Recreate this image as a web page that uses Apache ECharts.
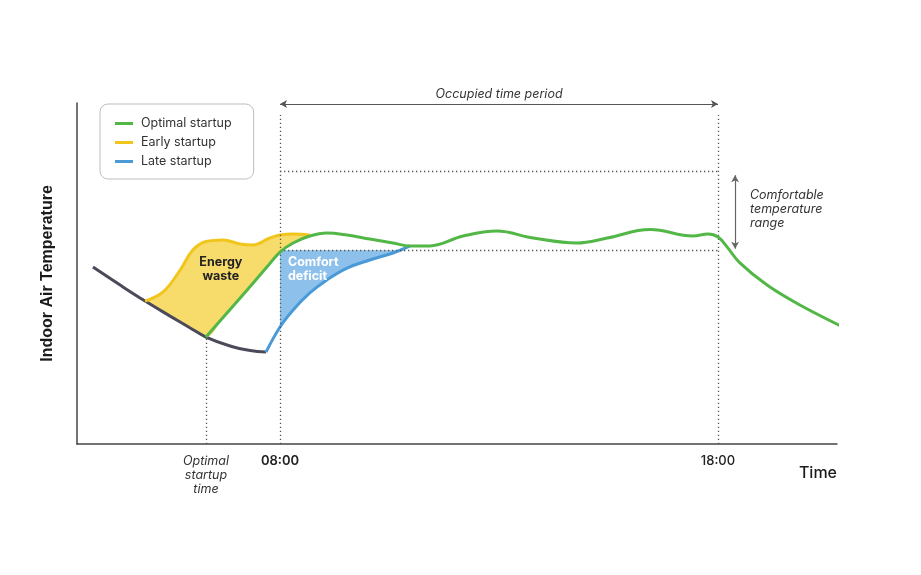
<!DOCTYPE html>
<html>
<head>
<meta charset="utf-8">
<title>Optimal startup</title>
<script src="https://cdn.jsdelivr.net/npm/echarts@6/dist/echarts.min.js"></script>
<style>
html, body { margin: 0; padding: 0; background: #fff; }
#chart { width: 921px; height: 575px; }
</style>
</head>
<body>
<div id="chart"></div>
<script>
// x = hour of day, y = indoor air temperature (degC)
var nightX = [3.73, 4.35, 4.92, 5.49, 5.95, 6.31, 6.86, 7.32, 7.68];
var nightY = [19.15, 18.24, 17.43, 16.67, 16.07, 15.61, 15.16, 14.93, 14.85];

var optimalX = [6.31, 6.79, 7.25, 7.70, 8.00, 8.30, 8.68, 9.07, 9.53, 10.05, 10.58, 10.97, 11.42, 12.18, 12.95, 13.78, 14.78, 15.47, 16.45, 17.43, 17.77, 18.00, 18.21, 18.50, 19.12, 19.87, 20.85];
var optimalY = [15.61, 16.83, 17.99, 19.15, 19.91, 20.37, 20.72, 20.87, 20.77, 20.57, 20.37, 20.22, 20.22, 20.72, 20.97, 20.62, 20.37, 20.62, 21.05, 20.72, 20.82, 20.67, 20.16, 19.36, 18.24, 17.23, 16.12];

// early startup curve and the lower edge of the "energy waste" area
var wasteX = [4.92, 5.33, 5.72, 6.01, 6.31, 6.70, 7.09, 7.38, 7.77, 8.00, 8.30, 8.68];
var wasteTop = [17.43, 17.89, 19.00, 20.01, 20.44, 20.52, 20.32, 20.27, 20.62, 20.77, 20.82, 20.77];
var wasteBottom = [17.43, 16.88, 16.37, 15.97, 15.61, 16.57, 17.58, 18.34, 19.33, 19.91, 20.37, 20.72];

var lateX = [7.68, 8.00, 8.30, 8.68, 9.07, 9.53, 10.05, 10.58, 10.97];
var lateY = [14.85, 16.12, 16.98, 17.84, 18.50, 19.10, 19.51, 19.86, 20.22];

// "comfort deficit" area: late curve below the comfort band
var deficitX = [8.00, 8.30, 8.68, 9.07, 9.53, 10.05, 10.58, 10.74];
var deficitY = [16.12, 16.98, 17.84, 18.50, 19.10, 19.51, 19.86, 20.00];

var comfortLow = 20;
var comfortHigh = 24;
var optimalStart = 6.31;
var occupiedStart = 8;
var occupiedEnd = 18;

var tickValues = [6.31, 8, 18];
var tickLabels = ['{i|Optimal}\n{i|startup}\n{i|time}', '{b|08:00}', '{m|18:00}'];

var xMin = 3.365, xMax = 20.717;
var yMin = 10.2, yMax = 27.45;

var GREEN = '#52b747';
var YELLOW = '#f1c61c';
var BLUE = '#4a9ad8';
var DARK = '#4a4a5a';
var FONT = 'Inter';

function pairs(xs, ys){
	return xs.map(function(x, i){ return [x, ys[i]]; });
}

// y first, so that the stack runs on the temperature dimension
function yxPairs(xs, ys){
	return xs.map(function(x, i){ return [ys[i], x]; });
}

function drawChart(){
	var voChart = echarts.init(document.getElementById('chart'));

	var wasteDiff = wasteTop.map(function(v, i){ return +(v - wasteBottom[i]).toFixed(3); });
	var dotted = { color: '#555', width: 1.3, type: [1.3, 2.7] };

	var options = {
		animation: false,
		grid: { left: 77, right: 84, top: 103, bottom: 131 },
		legend: {
			data: ['Optimal startup', 'Early startup', 'Late startup'],
			orient: 'vertical',
			left: 100,
			top: 104,
			padding: [12, 22, 10, 15],
			itemGap: 4,
			itemWidth: 18,
			itemHeight: 3,
			icon: 'rect',
			selectedMode: false,
			borderColor: '#bdbdbd',
			borderWidth: 1,
			borderRadius: 8,
			textStyle: { fontFamily: FONT, fontSize: 12.5, color: '#333', lineHeight: 15, padding: [0, 0, 0, 3] }
		},
		xAxis: {
			type: 'value',
			min: xMin,
			max: xMax,
			name: 'Time',
			nameLocation: 'end',
			nameGap: 0,
			nameTextStyle: { fontFamily: FONT, fontSize: 16, fontWeight: 500, color: '#1a1a1a', align: 'right', verticalAlign: 'top', padding: [21, 0, 0, 0] },
			axisLine: { show: true, onZero: false, lineStyle: { color: '#444', width: 1.5 } },
			axisTick: { show: false },
			splitLine: { show: false },
			axisLabel: {
				show: true,
				customValues: tickValues,
				margin: 10,
				formatter: function(value){
					for(var i = 0; i < tickValues.length; i++) {
						if(Math.abs(value - tickValues[i]) < 1e-6) return tickLabels[i];
					}
					return '';
				},
				rich: {
					i: { fontFamily: FONT, fontStyle: 'italic', fontSize: 12.5, color: '#333', lineHeight: 14 },
					b: { fontFamily: FONT, fontWeight: 600, fontSize: 13, color: '#222', lineHeight: 14 },
					m: { fontFamily: FONT, fontWeight: 500, fontSize: 13, color: '#222', lineHeight: 14 }
				}
			}
		},
		yAxis: {
			type: 'value',
			min: yMin,
			max: yMax,
			name: 'Indoor Air Temperature',
			nameLocation: 'middle',
			nameGap: 21,
			nameTextStyle: { fontFamily: 'Liberation Sans', fontWeight: 'bold', fontSize: 16, color: '#1a1a1a' },
			axisLine: { show: true, onZero: false, lineStyle: { color: '#444', width: 1.5 } },
			axisTick: { show: false },
			axisLabel: { show: false },
			splitLine: { show: false }
		},
		series: [
			{
				name: 'wasteBase', type: 'line', stack: 'waste', smooth: 0.4, symbol: 'none', silent: true, z: 1,
				encode: { x: 1, y: 0 },
				lineStyle: { width: 0, opacity: 0 },
				data: yxPairs(wasteX, wasteBottom)
			},
			{
				name: 'wasteFill', type: 'line', stack: 'waste', smooth: 0.4, symbol: 'none', silent: true, z: 1,
				encode: { x: 1, y: 0 },
				lineStyle: { width: 0, opacity: 0 },
				areaStyle: { color: '#f7dc6c', opacity: 1 },
				data: yxPairs(wasteX, wasteDiff)
			},
			{
				name: 'deficitFill', type: 'line', smooth: 0.4, symbol: 'none', silent: true, z: 1,
				lineStyle: { width: 0, opacity: 0 },
				areaStyle: { color: '#8dc1eb', opacity: 1, origin: comfortLow },
				data: pairs(deficitX, deficitY)
			},
			{
				name: 'guides', type: 'line', data: [], z: 3, silent: true,
				markLine: {
					silent: true, symbol: 'none', animation: false,
					label: { show: false },
					lineStyle: dotted,
					data: [
						[{ coord: [optimalStart, yMin] }, { coord: [optimalStart, 15.61] }],
						[{ coord: [occupiedStart, yMin] }, { coord: [occupiedStart, 26.84] }],
						[{ coord: [occupiedEnd, yMin] }, { coord: [occupiedEnd, 26.84] }],
						[{ coord: [occupiedStart, comfortHigh] }, { coord: [occupiedEnd, comfortHigh] }],
						[{ coord: [occupiedStart, comfortLow] }, { coord: [occupiedEnd, comfortLow] }]
					]
				}
			},
			{
				name: 'occupied', type: 'line', data: [], z: 3, silent: true,
				markLine: {
					silent: true, symbol: ['arrow', 'arrow'], symbolSize: [6, 7], animation: false,
					lineStyle: { color: '#555', width: 1.2, type: 'solid' },
					label: {
						show: true, position: 'insideMiddleTop', distance: 3,
						formatter: 'Occupied time period',
						fontFamily: FONT, fontStyle: 'italic', fontSize: 12.5, color: '#333'
					},
					data: [[{ coord: [occupiedStart, 27.4] }, { coord: [occupiedEnd, 27.4] }]]
				}
			},
			{
				name: 'comfort', type: 'line', data: [], z: 3, silent: true,
				markLine: {
					silent: true, symbol: ['arrow', 'arrow'], symbolSize: [6, 7], animation: false,
					lineStyle: { color: '#666', width: 1.2, type: 'solid' },
					label: { show: false },
					data: [[{ coord: [18.39, 23.8] }, { coord: [18.39, 20.08] }]]
				}
			},
			{
				name: 'Night', type: 'line', smooth: 0.4, symbol: 'none', z: 4,
				lineStyle: { color: DARK, width: 3 },
				data: pairs(nightX, nightY)
			},
			{
				name: 'Early startup', type: 'line', smooth: 0.4, symbol: 'none', z: 4,
				color: YELLOW,
				lineStyle: { color: YELLOW, width: 3 },
				data: pairs(wasteX, wasteTop)
			},
			{
				name: 'Late startup', type: 'line', smooth: 0.4, symbol: 'none', z: 4,
				color: BLUE,
				lineStyle: { color: BLUE, width: 3 },
				data: pairs(lateX, lateY)
			},
			{
				name: 'Optimal startup', type: 'line', smooth: 0.4, symbol: 'none', z: 5, clip: false,
				color: GREEN,
				lineStyle: { color: GREEN, width: 3 },
				data: pairs(optimalX, optimalY)
			},
			{
				name: 'notes', type: 'line', data: [], z: 6, silent: true,
				markPoint: {
					silent: true, symbol: 'circle', symbolSize: 0, animation: false,
					data: [
						{ coord: [6.65, 19.03], label: { show: true, position: 'inside', formatter: 'Energy\nwaste', align: 'center', fontFamily: FONT, fontWeight: 'bold', fontSize: 12.5, lineHeight: 13.5, color: '#222' } },
						{ coord: [8.18, 19.03], label: { show: true, position: 'right', distance: 0, formatter: 'Comfort\ndeficit', align: 'left', fontFamily: FONT, fontWeight: 'bold', fontSize: 12.5, lineHeight: 13.5, color: '#fff' } },
						{ coord: [18.73, 22.09], label: { show: true, position: 'right', distance: 0, formatter: 'Comfortable\ntemperature\nrange', align: 'left', fontFamily: FONT, fontStyle: 'italic', fontSize: 12.5, lineHeight: 14, color: '#333' } }
					]
				}
			}
		]
	};
	voChart.setOption(options);
}

drawChart();
</script>
</body>
</html>
